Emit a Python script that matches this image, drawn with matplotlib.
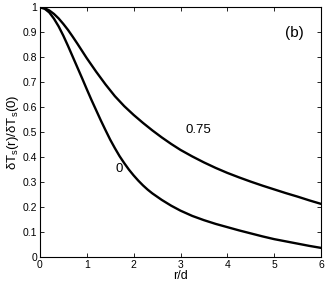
import matplotlib
matplotlib.use("Agg")
import matplotlib.pyplot as plt

plt.rcParams['font.family'] = ['Liberation Sans', 'DejaVu Sans']
plt.rcParams['mathtext.fontset'] = 'custom'
plt.rcParams['mathtext.rm'] = 'Liberation Sans'
plt.rcParams['mathtext.it'] = 'Liberation Sans'

# curve labelled "0"
r0 = [0, 0.1, 0.2, 0.3, 0.4, 0.5, 0.6, 0.7, 0.8, 0.9, 1.0, 1.1, 1.2, 1.3, 1.4, 1.5, 1.6, 1.7, 1.8, 1.9,
      2.0, 2.1, 2.2, 2.3, 2.4, 2.6, 2.8, 3.0, 3.25, 3.5, 3.75, 4.0, 4.25, 4.5, 4.75, 5.0, 5.25, 5.5, 5.75, 6.0]
v0 = [1.0, 0.995, 0.98, 0.955, 0.924, 0.887, 0.846, 0.803, 0.76, 0.717, 0.673, 0.63, 0.589, 0.548, 0.509,
      0.471, 0.437, 0.405, 0.377, 0.351, 0.328, 0.307, 0.288, 0.271, 0.256, 0.23, 0.207, 0.187, 0.166,
      0.149, 0.134, 0.121, 0.108, 0.096, 0.084, 0.073, 0.064, 0.055, 0.046, 0.038]

# curve labelled "0.75"
r75 = [0, 0.1, 0.2, 0.3, 0.4, 0.5, 0.6, 0.7, 0.8, 0.9, 1.0, 1.2, 1.4, 1.6, 1.8, 2.0, 2.2, 2.4, 2.6, 2.8,
       3.0, 3.25, 3.5, 3.75, 4.0, 4.25, 4.5, 4.75, 5.0, 5.25, 5.5, 5.75, 6.0]
v75 = [1.0, 0.997, 0.988, 0.974, 0.956, 0.934, 0.91, 0.883, 0.855, 0.826, 0.797, 0.743, 0.692, 0.645,
       0.605, 0.57, 0.538, 0.508, 0.48, 0.454, 0.43, 0.404, 0.38, 0.358, 0.338, 0.32, 0.303, 0.287, 0.272,
       0.257, 0.243, 0.228, 0.214]

xticks = [0, 1, 2, 3, 4, 5, 6]
yticks = [0, 0.1, 0.2, 0.3, 0.4, 0.5, 0.6, 0.7, 0.8, 0.9, 1]
yticklabels = ['0', '0.1', '0.2', '0.3', '0.4', '0.5', '0.6', '0.7', '0.8', '0.9', '1']

fig = plt.figure(figsize=(3.27, 2.86), dpi=100)
ax = fig.add_axes([0.122, 0.100, 0.860, 0.874])

ax.plot(r0, v0, color='black', lw=1.7)
ax.plot(r75, v75, color='black', lw=1.7)

ax.text(1.69, 0.352, '0', fontsize=9.5, ha='center', va='center')
ax.text(3.39, 0.509, '0.75', fontsize=9.5, ha='center', va='center')
ax.text(5.42, 0.897, '(b)', fontsize=11, ha='center', va='center')

ax.set_xlim(0, 6)
ax.set_ylim(0, 1)
ax.set_xticks(xticks)
ax.set_yticks(yticks)
ax.set_yticklabels(yticklabels)
ax.tick_params(direction='in', top=True, right=True, labelsize=7.5, length=3, width=0.6, pad=2)
for s in ax.spines.values():
    s.set_linewidth(0.8)

ax.set_xlabel('r/d', fontsize=9, labelpad=0)
ax.set_ylabel(r'$\delta$T$_\mathrm{s}$(r)/$\delta$T$_\mathrm{s}$(0)', fontsize=9.5, labelpad=1)

plt.savefig("out.png", dpi=100)
